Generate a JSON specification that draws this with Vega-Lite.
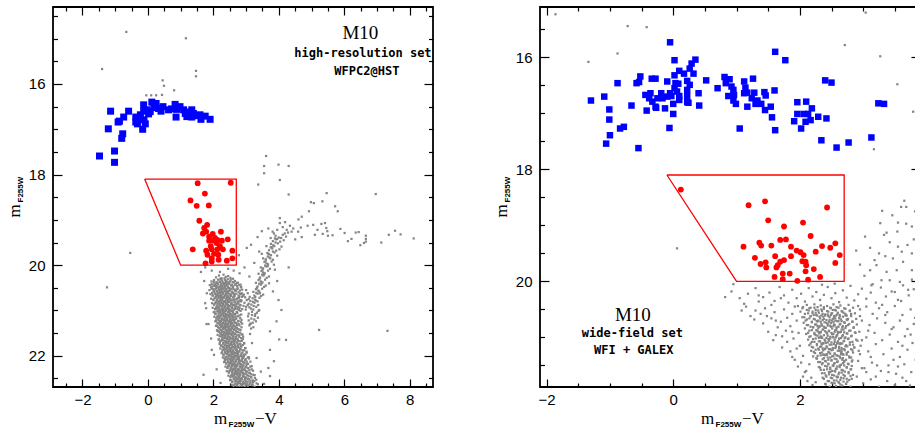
{
"$schema":"https://vega.github.io/schema/vega-lite/v6.json",
"autosize":{"type":"none"},
"padding":{"left":53,"top":7,"right":862,"bottom":421},
"background":"white",
"bounds":"flush",
"spacing":107,
"config":{"view":{"stroke":"#000000","strokeWidth":1.8},"axis":{"grid":false,"labelFont":"Liberation Sans","labelFontSize":15,"labelColor":"#000000","tickColor":"#000000","tickWidth":1.2,"titleColor":"#000000","labelFlush":false,"labelOverlap":false,"labelBound":false}},
"datasets":{
"poly":[{"c":-0.1,"m":18.1,"o":0},{"c":2.7,"m":18.1,"o":1},{"c":2.7,"m":20.0,"o":2},{"c":1.0,"m":20.0,"o":3},{"c":-0.1,"m":18.1,"o":4}],
"tL1":[{"c":6.49,"m":14.875,"t":"M10"}],
"tL2":[{"c":6.57,"m":15.316,"t":"high-resolution set"},{"c":6.69,"m":15.72,"t":"WFPC2@HST"}],
"tR1":[{"c":-0.637,"m":20.605,"t":"M10"}],
"tR2":[{"c":-0.645,"m":20.93,"t":"wide-field set"},{"c":-0.624,"m":21.227,"t":"WFI + GALEX"}],
"bL":[{"c":-1.48,"m":17.59},{"c":-1.02,"m":17.73},{"c":-1.02,"m":17.48},{"c":-1.21,"m":16.99},{"c":-1.14,"m":16.6},{"c":-0.8,"m":17.2},{"c":-0.77,"m":17.1},{"c":-0.91,"m":16.84},{"c":-0.87,"m":16.82},{"c":-0.74,"m":16.73},{"c":-0.59,"m":16.6},{"c":-0.37,"m":16.73},{"c":-0.37,"m":16.84},{"c":-0.32,"m":16.88},{"c":-0.16,"m":17.0},{"c":-0.08,"m":16.88},{"c":-0.12,"m":16.79},{"c":-0.23,"m":16.68},{"c":-0.13,"m":16.46},{"c":-0.03,"m":16.57},{"c":0.07,"m":16.61},{"c":0.12,"m":16.4},{"c":0.25,"m":16.43},{"c":0.32,"m":16.54},{"c":0.46,"m":16.5},{"c":0.63,"m":16.57},{"c":0.83,"m":16.45},{"c":0.88,"m":16.56},{"c":0.86,"m":16.73},{"c":0.98,"m":16.5},{"c":1.09,"m":16.57},{"c":1.14,"m":16.65},{"c":1.19,"m":16.72},{"c":1.34,"m":16.57},{"c":1.34,"m":16.73},{"c":1.39,"m":16.65},{"c":1.59,"m":16.68},{"c":1.62,"m":16.78},{"c":1.75,"m":16.71},{"c":1.9,"m":16.78},{"c":-0.13,"m":16.6},{"c":-0.25,"m":16.76},{"c":0.02,"m":16.66},{"c":0.18,"m":16.52},{"c":0.4,"m":16.6},{"c":1.25,"m":16.62},{"c":1.5,"m":16.7},{"c":0.72,"m":16.55}],
"rL":[{"c":1.52,"m":18.19},{"c":2.53,"m":18.18},{"c":1.74,"m":18.42},{"c":1.3,"m":18.57},{"c":1.49,"m":18.69},{"c":1.86,"m":18.68},{"c":1.57,"m":19.02},{"c":1.81,"m":19.11},{"c":1.72,"m":19.18},{"c":1.78,"m":19.26},{"c":1.98,"m":19.31},{"c":2.23,"m":19.26},{"c":1.87,"m":19.37},{"c":1.87,"m":19.46},{"c":2.0,"m":19.46},{"c":2.12,"m":19.44},{"c":2.26,"m":19.46},{"c":2.44,"m":19.43},{"c":2.1,"m":19.51},{"c":1.37,"m":19.65},{"c":1.78,"m":19.68},{"c":1.95,"m":19.65},{"c":2.12,"m":19.65},{"c":2.29,"m":19.65},{"c":2.58,"m":19.68},{"c":1.82,"m":19.77},{"c":2.02,"m":19.75},{"c":2.15,"m":19.77},{"c":2.58,"m":19.85},{"c":1.95,"m":19.85},{"c":1.76,"m":19.96},{"c":1.95,"m":19.92},{"c":2.16,"m":19.88},{"c":2.41,"m":19.9},{"c":1.92,"m":19.58},{"c":2.05,"m":19.4},{"c":1.68,"m":19.3},{"c":2.2,"m":19.58}],
"bR":[{"c":-0.05,"m":15.73},{"c":0.02,"m":16.05},{"c":0.35,"m":16.04},{"c":0.29,"m":16.11},{"c":0.26,"m":16.2},{"c":0.095,"m":16.24},{"c":0.17,"m":16.29},{"c":0.32,"m":16.29},{"c":0.02,"m":16.32},{"c":-0.52,"m":16.34},{"c":-0.58,"m":16.46},{"c":-0.54,"m":16.44},{"c":-0.88,"m":16.46},{"c":-0.28,"m":16.38},{"c":-0.34,"m":16.38},{"c":-0.095,"m":16.43},{"c":0.035,"m":16.46},{"c":0.08,"m":16.47},{"c":0.22,"m":16.42},{"c":0.26,"m":16.49},{"c":0.52,"m":16.41},{"c":0.02,"m":16.55},{"c":0.06,"m":16.61},{"c":-0.05,"m":16.64},{"c":-0.19,"m":16.64},{"c":-0.36,"m":16.64},{"c":-0.44,"m":16.67},{"c":-0.38,"m":16.73},{"c":-0.25,"m":16.73},{"c":-0.17,"m":16.73},{"c":-0.095,"m":16.7},{"c":-0.03,"m":16.69},{"c":0.095,"m":16.69},{"c":0.22,"m":16.58},{"c":0.22,"m":16.69},{"c":0.4,"m":16.64},{"c":0.22,"m":16.8},{"c":0.095,"m":16.76},{"c":0.0,"m":16.83},{"c":-0.13,"m":16.91},{"c":-0.28,"m":16.88},{"c":-0.33,"m":16.79},{"c":-0.66,"m":16.86},{"c":-1.09,"m":16.7},{"c":-1.3,"m":16.77},{"c":-1.01,"m":16.93},{"c":-1.01,"m":17.11},{"c":-0.84,"m":17.27},{"c":-0.78,"m":17.24},{"c":-1.0,"m":17.39},{"c":-1.06,"m":17.54},{"c":-0.55,"m":17.62},{"c":-0.42,"m":16.95},{"c":-0.27,"m":16.9},{"c":0.0,"m":17.01},{"c":-0.06,"m":17.26},{"c":0.41,"m":16.86},{"c":0.24,"m":16.81},{"c":0.81,"m":16.35},{"c":0.89,"m":16.39},{"c":0.83,"m":16.46},{"c":0.92,"m":16.52},{"c":0.95,"m":16.58},{"c":0.7,"m":16.55},{"c":0.87,"m":16.69},{"c":0.96,"m":16.67},{"c":0.95,"m":16.77},{"c":0.99,"m":16.83},{"c":1.12,"m":16.43},{"c":1.26,"m":16.38},{"c":1.14,"m":16.54},{"c":1.17,"m":16.63},{"c":1.12,"m":16.64},{"c":1.28,"m":16.63},{"c":1.44,"m":16.62},{"c":1.46,"m":16.68},{"c":1.6,"m":16.59},{"c":1.24,"m":16.73},{"c":1.33,"m":16.77},{"c":1.39,"m":16.83},{"c":1.3,"m":16.83},{"c":1.17,"m":16.88},{"c":1.54,"m":16.88},{"c":1.45,"m":16.94},{"c":1.56,"m":17.07},{"c":1.61,"m":17.3},{"c":1.05,"m":17.27},{"c":1.77,"m":16.05},{"c":1.61,"m":15.9},{"c":1.96,"m":16.8},{"c":2.1,"m":16.79},{"c":2.19,"m":16.91},{"c":1.96,"m":17.01},{"c":2.06,"m":17.01},{"c":2.13,"m":17.01},{"c":1.91,"m":17.14},{"c":2.09,"m":17.15},{"c":2.17,"m":17.12},{"c":2.29,"m":17.06},{"c":2.42,"m":17.09},{"c":2.02,"m":17.27},{"c":2.4,"m":16.41},{"c":2.5,"m":16.45},{"c":2.34,"m":17.48},{"c":2.58,"m":17.61},{"c":2.77,"m":17.52},{"c":3.13,"m":17.43},{"c":3.24,"m":16.82},{"c":3.33,"m":16.83}],
"rR":[{"c":0.12,"m":18.36},{"c":1.19,"m":18.64},{"c":1.45,"m":18.57},{"c":2.43,"m":18.68},{"c":1.5,"m":18.91},{"c":2.05,"m":18.95},{"c":1.75,"m":19.02},{"c":2.17,"m":19.19},{"c":1.69,"m":19.26},{"c":1.78,"m":19.25},{"c":1.36,"m":19.31},{"c":1.39,"m":19.36},{"c":1.55,"m":19.36},{"c":1.11,"m":19.38},{"c":1.86,"m":19.38},{"c":1.95,"m":19.45},{"c":2.01,"m":19.48},{"c":2.06,"m":19.53},{"c":2.25,"m":19.47},{"c":2.35,"m":19.37},{"c":2.48,"m":19.4},{"c":2.56,"m":19.32},{"c":2.63,"m":19.53},{"c":2.56,"m":19.67},{"c":1.29,"m":19.58},{"c":1.61,"m":19.55},{"c":1.86,"m":19.55},{"c":1.38,"m":19.69},{"c":1.47,"m":19.75},{"c":1.46,"m":19.66},{"c":1.69,"m":19.65},{"c":1.75,"m":19.62},{"c":1.63,"m":19.75},{"c":1.65,"m":19.71},{"c":2.04,"m":19.64},{"c":2.09,"m":19.65},{"c":2.1,"m":19.71},{"c":2.09,"m":19.82},{"c":2.22,"m":19.78},{"c":1.73,"m":19.86},{"c":1.84,"m":19.86},{"c":1.6,"m":19.92},{"c":1.73,"m":19.96},{"c":1.96,"m":19.99},{"c":2.13,"m":19.97},{"c":2.32,"m":19.92}],
"gL":[{"c":-0.66,"m":14.85},{"c":1.16,"m":14.99},{"c":-1.4,"m":15.67},{"c":1.47,"m":15.71},{"c":1.47,"m":15.83},{"c":0.45,"m":15.92},{"c":0.49,"m":16.04},{"c":0.8,"m":16.14},{"c":-0.05,"m":16.25},{"c":0.1,"m":16.25},{"c":0.25,"m":16.25},{"c":0.43,"m":16.24},{"c":-0.54,"m":19.73},{"c":-1.25,"m":20.49},{"c":5.23,"m":21.43},{"c":7.32,"m":21.45},{"c":6.96,"m":18.43},
{"c":3.61,"m":17.59},{"c":3.55,"m":17.81},{"c":3.55,"m":17.97},{"c":3.99,"m":17.78},{"c":4.3,"m":17.81},{"c":4.03,"m":18.12},{"c":3.37,"m":18.22},{"c":4.3,"m":18.44},{"c":5.46,"m":18.41},{"c":4.98,"m":18.61},{"c":5.07,"m":18.63},{"c":5.33,"m":18.59},{"c":5.72,"m":18.7},{"c":5.8,"m":18.81},{"c":4.92,"m":18.81},{"c":4.7,"m":18.93},{"c":4.6,"m":18.99},{"c":4.03,"m":18.96},{"c":4.03,"m":19.07},{"c":4.19,"m":19.05},{"c":4.34,"m":19.13},{"c":4.44,"m":19.19},{"c":4.24,"m":19.22},{"c":3.95,"m":19.22},{"c":3.81,"m":19.26},{"c":3.68,"m":19.19},{"c":4.12,"m":19.16},{"c":4.39,"m":19.26},{"c":4.59,"m":19.26},{"c":4.67,"m":19.17},{"c":4.88,"m":19.13},{"c":5.05,"m":19.11},{"c":5.18,"m":19.22},{"c":5.3,"m":19.09},{"c":5.41,"m":19.07},{"c":5.45,"m":19.18},{"c":5.48,"m":19.25},{"c":5.34,"m":19.31},{"c":5.1,"m":19.33},{"c":5.5,"m":19.35},{"c":5.64,"m":19.34},{"c":5.88,"m":19.2},{"c":6.01,"m":19.29},{"c":6.11,"m":19.47},{"c":6.22,"m":19.42},{"c":6.35,"m":19.28},{"c":6.44,"m":19.27},{"c":6.66,"m":19.35},{"c":6.66,"m":19.42},{"c":6.6,"m":19.51},{"c":6.49,"m":19.56},{"c":6.66,"m":19.48},{"c":7.13,"m":19.5},{"c":7.36,"m":19.33},{"c":7.55,"m":19.24},{"c":7.72,"m":19.32},{"c":8.12,"m":19.41},{"c":4.5,"m":19.43},{"c":4.7,"m":19.38},
{"c":3.1,"m":21.33},{"c":3.22,"m":21.37},{"c":3.15,"m":21.4},{"c":3.08,"m":21.22},{"c":3.2,"m":21.27},{"c":3.3,"m":21.24},{"c":3.14,"m":21.29},{"c":3.06,"m":21.13},{"c":3.16,"m":21.18},{"c":3.27,"m":21.12},{"c":3.36,"m":21.16},{"c":3.08,"m":21.07},{"c":3.18,"m":21.03},{"c":3.28,"m":21.08},{"c":3.38,"m":21.01},
{"c":3.1,"m":20.93},{"c":3.22,"m":20.98},{"c":3.31,"m":20.92},{"c":3.15,"m":20.96},{"c":3.4,"m":20.99},{"c":3.16,"m":20.87},{"c":3.26,"m":20.83},{"c":3.37,"m":20.88},{"c":3.21,"m":20.81},{"c":3.08,"m":20.85},{"c":3.2,"m":20.73},{"c":3.3,"m":20.78},{"c":3.41,"m":20.72},{"c":3.27,"m":20.76},{"c":3.13,"m":20.79},{"c":3.25,"m":20.67},{"c":3.35,"m":20.63},{"c":3.46,"m":20.68},{"c":3.31,"m":20.61},{"c":3.52,"m":20.65},{"c":3.3,"m":20.53},{"c":3.4,"m":20.58},{"c":3.49,"m":20.52},{"c":3.37,"m":20.56},{"c":3.22,"m":20.59},{"c":3.35,"m":20.47},{"c":3.45,"m":20.43},{"c":3.55,"m":20.48},{"c":3.4,"m":20.41},{"c":3.6,"m":20.45},{"c":3.38,"m":20.33},{"c":3.5,"m":20.38},{"c":3.58,"m":20.32},{"c":3.45,"m":20.36},{"c":3.3,"m":20.39},{"c":3.43,"m":20.27},{"c":3.53,"m":20.23},{"c":3.63,"m":20.28},{"c":3.49,"m":20.21},{"c":3.7,"m":20.25},{"c":3.47,"m":20.13},{"c":3.57,"m":20.18},{"c":3.67,"m":20.12},{"c":3.52,"m":20.16},{"c":3.38,"m":20.19},{"c":3.52,"m":20.07},{"c":3.62,"m":20.03},{"c":3.73,"m":20.08},{"c":3.58,"m":20.01},{"c":3.45,"m":20.05},{"c":3.56,"m":19.93},{"c":3.67,"m":19.98},{"c":3.78,"m":19.92},{"c":3.62,"m":19.96},{"c":3.85,"m":19.99},{"c":3.6,"m":19.87},{"c":3.71,"m":19.83},{"c":3.82,"m":19.88},{"c":3.66,"m":19.81},{"c":3.52,"m":19.85},{"c":3.65,"m":19.73},{"c":3.76,"m":19.78},{"c":3.87,"m":19.72},{"c":3.7,"m":19.76},{"c":3.95,"m":19.79},{"c":3.7,"m":19.67},{"c":3.8,"m":19.63},{"c":3.92,"m":19.68},{"c":3.75,"m":19.61},{"c":4.02,"m":19.65},{"c":3.76,"m":19.53},{"c":3.86,"m":19.58},{"c":3.97,"m":19.52},{"c":3.83,"m":19.56},{"c":4.08,"m":19.59},{"c":3.82,"m":19.47},{"c":3.92,"m":19.43},{"c":4.04,"m":19.48},{"c":3.88,"m":19.41},{"c":4.15,"m":19.45},{"c":3.9,"m":19.35},{"c":4.0,"m":19.39},{"c":4.12,"m":19.33},{"c":4.22,"m":19.37},
{"c":3.12,"m":21.3},{"c":3.25,"m":21.2},{"c":3.18,"m":21.1},{"c":3.33,"m":21.05},{"c":3.23,"m":20.9},{"c":3.35,"m":20.8},{"c":3.28,"m":20.7},{"c":3.42,"m":20.62},{"c":3.33,"m":20.5},{"c":3.47,"m":20.4},{"c":3.41,"m":20.3},{"c":3.55,"m":20.2},{"c":3.5,"m":20.1},{"c":3.66,"m":20.02},{"c":3.6,"m":19.9},{"c":3.74,"m":19.85},{"c":3.68,"m":19.75},{"c":3.82,"m":19.7},{"c":3.78,"m":19.6},{"c":3.9,"m":19.5},{"c":3.95,"m":19.42},{"c":4.07,"m":19.4},{"c":4.18,"m":19.3},{"c":3.85,"m":19.3},{"c":4.28,"m":19.28},{"c":3.75,"m":19.4},{"c":3.62,"m":19.58},{"c":3.48,"m":19.75},{"c":3.88,"m":20.1},{"c":3.7,"m":20.4},
{"c":2.78,"m":20.72},{"c":2.86,"m":20.78},{"c":2.95,"m":20.83},{"c":2.83,"m":20.88},{"c":2.91,"m":20.68},{"c":3.02,"m":20.77},{"c":2.8,"m":20.95},{"c":2.88,"m":20.97},{"c":3.0,"m":20.92},{"c":2.82,"m":20.63},{"c":2.97,"m":20.71},{"c":3.08,"m":20.75},{"c":2.76,"m":20.85},{"c":2.93,"m":20.65},{"c":3.05,"m":20.88},{"c":2.87,"m":20.7},{"c":2.99,"m":20.98},{"c":3.11,"m":20.7},{"c":2.92,"m":20.9},{"c":2.84,"m":20.8},
{"c":2.08,"m":20.27},{"c":2.17,"m":20.23},{"c":2.25,"m":20.29},{"c":2.31,"m":20.21},{"c":2.38,"m":20.26},{"c":2.45,"m":20.24},{"c":2.52,"m":20.28},{"c":2.6,"m":20.3},{"c":2.21,"m":20.3},{"c":2.34,"m":20.29},
{"c":1.94,"m":20.36},{"c":2.02,"m":20.33},{"c":2.09,"m":20.38},{"c":2.14,"m":20.32},{"c":2.2,"m":20.37},{"c":2.27,"m":20.34},{"c":2.32,"m":20.39},{"c":2.36,"m":20.33},{"c":2.41,"m":20.36},{"c":2.47,"m":20.38},{"c":2.53,"m":20.32},{"c":2.59,"m":20.37},{"c":2.66,"m":20.35},{"c":2.73,"m":20.39},{"c":2.24,"m":20.31},{"c":2.44,"m":20.31},{"c":2.12,"m":20.39},
{"c":1.89,"m":20.44},{"c":1.97,"m":20.47},{"c":2.03,"m":20.42},{"c":2.08,"m":20.46},{"c":2.13,"m":20.41},{"c":2.18,"m":20.48},{"c":2.22,"m":20.43},{"c":2.27,"m":20.46},{"c":2.31,"m":20.42},{"c":2.35,"m":20.49},{"c":2.4,"m":20.44},{"c":2.44,"m":20.47},{"c":2.49,"m":20.41},{"c":2.54,"m":20.45},{"c":2.6,"m":20.48},{"c":2.66,"m":20.43},{"c":2.72,"m":20.46},{"c":2.79,"m":20.44},{"c":2.84,"m":20.49},{"c":2.25,"m":20.5},{"c":2.38,"m":20.4},
{"c":1.88,"m":20.55},{"c":1.95,"m":20.52},{"c":2.01,"m":20.57},{"c":2.06,"m":20.53},{"c":2.1,"m":20.58},{"c":2.15,"m":20.51},{"c":2.19,"m":20.56},{"c":2.23,"m":20.53},{"c":2.27,"m":20.59},{"c":2.3,"m":20.52},{"c":2.34,"m":20.56},{"c":2.38,"m":20.54},{"c":2.42,"m":20.58},{"c":2.46,"m":20.51},{"c":2.51,"m":20.55},{"c":2.56,"m":20.59},{"c":2.61,"m":20.53},{"c":2.67,"m":20.57},{"c":2.74,"m":20.52},{"c":2.81,"m":20.56},{"c":2.88,"m":20.54},{"c":2.21,"m":20.6},{"c":2.36,"m":20.5},
{"c":1.91,"m":20.64},{"c":1.98,"m":20.67},{"c":2.04,"m":20.62},{"c":2.09,"m":20.66},{"c":2.13,"m":20.61},{"c":2.17,"m":20.68},{"c":2.21,"m":20.63},{"c":2.25,"m":20.66},{"c":2.29,"m":20.62},{"c":2.33,"m":20.69},{"c":2.37,"m":20.64},{"c":2.41,"m":20.67},{"c":2.45,"m":20.61},{"c":2.49,"m":20.65},{"c":2.54,"m":20.68},{"c":2.59,"m":20.62},{"c":2.64,"m":20.66},{"c":2.7,"m":20.63},{"c":2.77,"m":20.67},{"c":2.85,"m":20.64},{"c":2.23,"m":20.7},{"c":2.39,"m":20.6},
{"c":1.93,"m":20.74},{"c":2.0,"m":20.77},{"c":2.06,"m":20.72},{"c":2.11,"m":20.76},{"c":2.15,"m":20.71},{"c":2.19,"m":20.78},{"c":2.23,"m":20.73},{"c":2.27,"m":20.76},{"c":2.31,"m":20.72},{"c":2.35,"m":20.79},{"c":2.39,"m":20.74},{"c":2.43,"m":20.77},{"c":2.47,"m":20.71},{"c":2.52,"m":20.75},{"c":2.57,"m":20.78},{"c":2.62,"m":20.72},{"c":2.68,"m":20.76},{"c":2.75,"m":20.73},{"c":2.83,"m":20.77},{"c":2.25,"m":20.8},{"c":2.41,"m":20.7},
{"c":1.96,"m":20.84},{"c":2.03,"m":20.87},{"c":2.08,"m":20.82},{"c":2.13,"m":20.86},{"c":2.17,"m":20.81},{"c":2.21,"m":20.88},{"c":2.25,"m":20.83},{"c":2.29,"m":20.86},{"c":2.33,"m":20.82},{"c":2.37,"m":20.89},{"c":2.41,"m":20.84},{"c":2.45,"m":20.87},{"c":2.49,"m":20.81},{"c":2.54,"m":20.85},{"c":2.59,"m":20.88},{"c":2.64,"m":20.82},{"c":2.7,"m":20.86},{"c":2.76,"m":20.83},{"c":2.27,"m":20.9},{"c":2.43,"m":20.8},
{"c":1.98,"m":20.94},{"c":2.05,"m":20.97},{"c":2.1,"m":20.92},{"c":2.15,"m":20.96},{"c":2.19,"m":20.91},{"c":2.23,"m":20.98},{"c":2.27,"m":20.93},{"c":2.31,"m":20.96},{"c":2.35,"m":20.92},{"c":2.39,"m":20.99},{"c":2.43,"m":20.94},{"c":2.47,"m":20.97},{"c":2.52,"m":20.91},{"c":2.57,"m":20.95},{"c":2.62,"m":20.98},{"c":2.67,"m":20.92},{"c":2.73,"m":20.96},{"c":2.29,"m":21.0},{"c":2.45,"m":20.9},
{"c":2.01,"m":21.04},{"c":2.07,"m":21.07},{"c":2.12,"m":21.02},{"c":2.17,"m":21.06},{"c":2.21,"m":21.01},{"c":2.25,"m":21.08},{"c":2.29,"m":21.03},{"c":2.33,"m":21.06},{"c":2.37,"m":21.02},{"c":2.41,"m":21.09},{"c":2.45,"m":21.04},{"c":2.5,"m":21.07},{"c":2.55,"m":21.01},{"c":2.6,"m":21.05},{"c":2.66,"m":21.08},{"c":2.72,"m":21.03},{"c":2.31,"m":21.1},{"c":2.47,"m":21.0},
{"c":2.03,"m":21.14},{"c":2.09,"m":21.17},{"c":2.14,"m":21.12},{"c":2.19,"m":21.16},{"c":2.23,"m":21.11},{"c":2.27,"m":21.18},{"c":2.31,"m":21.13},{"c":2.35,"m":21.16},{"c":2.39,"m":21.12},{"c":2.43,"m":21.19},{"c":2.47,"m":21.14},{"c":2.52,"m":21.17},{"c":2.57,"m":21.11},{"c":2.62,"m":21.15},{"c":2.68,"m":21.18},{"c":2.75,"m":21.13},{"c":2.33,"m":21.2},{"c":2.49,"m":21.1},
{"c":2.06,"m":21.24},{"c":2.12,"m":21.27},{"c":2.17,"m":21.22},{"c":2.21,"m":21.26},{"c":2.25,"m":21.21},{"c":2.29,"m":21.28},{"c":2.33,"m":21.23},{"c":2.37,"m":21.26},{"c":2.41,"m":21.22},{"c":2.45,"m":21.29},{"c":2.49,"m":21.24},{"c":2.54,"m":21.27},{"c":2.59,"m":21.21},{"c":2.64,"m":21.25},{"c":2.7,"m":21.28},{"c":2.77,"m":21.23},{"c":2.35,"m":21.3},{"c":2.51,"m":21.2},
{"c":2.08,"m":21.34},{"c":2.14,"m":21.37},{"c":2.19,"m":21.32},{"c":2.23,"m":21.36},{"c":2.27,"m":21.31},{"c":2.31,"m":21.38},{"c":2.35,"m":21.33},{"c":2.39,"m":21.36},{"c":2.43,"m":21.32},{"c":2.47,"m":21.39},{"c":2.51,"m":21.34},{"c":2.56,"m":21.37},{"c":2.61,"m":21.31},{"c":2.66,"m":21.35},{"c":2.72,"m":21.38},{"c":2.8,"m":21.33},{"c":2.37,"m":21.4},{"c":2.53,"m":21.3},
{"c":2.11,"m":21.44},{"c":2.17,"m":21.47},{"c":2.22,"m":21.42},{"c":2.26,"m":21.46},{"c":2.3,"m":21.41},{"c":2.34,"m":21.48},{"c":2.38,"m":21.43},{"c":2.42,"m":21.46},{"c":2.46,"m":21.42},{"c":2.5,"m":21.49},{"c":2.54,"m":21.44},{"c":2.59,"m":21.47},{"c":2.64,"m":21.41},{"c":2.69,"m":21.45},{"c":2.75,"m":21.48},{"c":2.83,"m":21.43},{"c":2.4,"m":21.5},{"c":2.56,"m":21.4},
{"c":2.13,"m":21.54},{"c":2.19,"m":21.57},{"c":2.24,"m":21.52},{"c":2.28,"m":21.56},{"c":2.32,"m":21.51},{"c":2.36,"m":21.58},{"c":2.4,"m":21.53},{"c":2.44,"m":21.56},{"c":2.48,"m":21.52},{"c":2.52,"m":21.59},{"c":2.56,"m":21.54},{"c":2.61,"m":21.57},{"c":2.66,"m":21.51},{"c":2.71,"m":21.55},{"c":2.78,"m":21.58},{"c":2.86,"m":21.53},{"c":2.42,"m":21.6},{"c":2.58,"m":21.5},
{"c":2.16,"m":21.64},{"c":2.22,"m":21.67},{"c":2.27,"m":21.62},{"c":2.31,"m":21.66},{"c":2.35,"m":21.61},{"c":2.39,"m":21.68},{"c":2.43,"m":21.63},{"c":2.47,"m":21.66},{"c":2.51,"m":21.62},{"c":2.55,"m":21.69},{"c":2.59,"m":21.64},{"c":2.64,"m":21.67},{"c":2.69,"m":21.61},{"c":2.75,"m":21.65},{"c":2.82,"m":21.68},{"c":2.9,"m":21.63},{"c":2.45,"m":21.7},{"c":2.61,"m":21.6},
{"c":2.19,"m":21.74},{"c":2.25,"m":21.77},{"c":2.3,"m":21.72},{"c":2.34,"m":21.76},{"c":2.38,"m":21.71},{"c":2.42,"m":21.78},{"c":2.46,"m":21.73},{"c":2.5,"m":21.76},{"c":2.54,"m":21.72},{"c":2.58,"m":21.79},{"c":2.62,"m":21.74},{"c":2.67,"m":21.77},{"c":2.72,"m":21.71},{"c":2.78,"m":21.75},{"c":2.85,"m":21.78},{"c":2.94,"m":21.73},{"c":2.48,"m":21.8},{"c":2.64,"m":21.7},
{"c":2.21,"m":21.84},{"c":2.28,"m":21.87},{"c":2.33,"m":21.82},{"c":2.37,"m":21.86},{"c":2.41,"m":21.81},{"c":2.45,"m":21.88},{"c":2.49,"m":21.83},{"c":2.53,"m":21.86},{"c":2.57,"m":21.82},{"c":2.61,"m":21.89},{"c":2.65,"m":21.84},{"c":2.7,"m":21.87},{"c":2.75,"m":21.81},{"c":2.82,"m":21.85},{"c":2.89,"m":21.88},{"c":2.98,"m":21.83},{"c":2.51,"m":21.9},{"c":2.67,"m":21.8},
{"c":2.25,"m":21.94},{"c":2.31,"m":21.97},{"c":2.36,"m":21.92},{"c":2.41,"m":21.96},{"c":2.45,"m":21.91},{"c":2.49,"m":21.98},{"c":2.53,"m":21.93},{"c":2.57,"m":21.96},{"c":2.61,"m":21.92},{"c":2.65,"m":21.99},{"c":2.69,"m":21.94},{"c":2.74,"m":21.97},{"c":2.79,"m":21.91},{"c":2.86,"m":21.95},{"c":2.93,"m":21.98},{"c":3.02,"m":21.93},{"c":2.55,"m":22.0},{"c":2.71,"m":21.9},
{"c":2.29,"m":22.04},{"c":2.35,"m":22.07},{"c":2.4,"m":22.02},{"c":2.45,"m":22.06},{"c":2.49,"m":22.01},{"c":2.53,"m":22.08},{"c":2.57,"m":22.03},{"c":2.61,"m":22.06},{"c":2.65,"m":22.02},{"c":2.69,"m":22.09},{"c":2.73,"m":22.04},{"c":2.78,"m":22.07},{"c":2.84,"m":22.01},{"c":2.91,"m":22.05},{"c":2.99,"m":22.08},{"c":3.08,"m":22.03},{"c":2.59,"m":22.1},{"c":2.75,"m":22.0},
{"c":2.33,"m":22.14},{"c":2.39,"m":22.17},{"c":2.44,"m":22.12},{"c":2.49,"m":22.16},{"c":2.53,"m":22.11},{"c":2.57,"m":22.18},{"c":2.61,"m":22.13},{"c":2.65,"m":22.16},{"c":2.69,"m":22.12},{"c":2.73,"m":22.19},{"c":2.77,"m":22.14},{"c":2.82,"m":22.17},{"c":2.88,"m":22.11},{"c":2.95,"m":22.15},{"c":3.03,"m":22.18},{"c":3.13,"m":22.13},{"c":2.63,"m":22.2},{"c":2.79,"m":22.1},
{"c":2.37,"m":22.24},{"c":2.43,"m":22.27},{"c":2.48,"m":22.22},{"c":2.53,"m":22.26},{"c":2.57,"m":22.21},{"c":2.61,"m":22.28},{"c":2.65,"m":22.23},{"c":2.69,"m":22.26},{"c":2.73,"m":22.22},{"c":2.77,"m":22.29},{"c":2.81,"m":22.24},{"c":2.86,"m":22.27},{"c":2.92,"m":22.21},{"c":2.99,"m":22.25},{"c":3.07,"m":22.28},{"c":3.17,"m":22.23},{"c":2.67,"m":22.3},{"c":2.83,"m":22.2},
{"c":2.41,"m":22.34},{"c":2.47,"m":22.37},{"c":2.52,"m":22.32},{"c":2.57,"m":22.36},{"c":2.61,"m":22.31},{"c":2.65,"m":22.38},{"c":2.69,"m":22.33},{"c":2.73,"m":22.36},{"c":2.77,"m":22.32},{"c":2.81,"m":22.39},{"c":2.85,"m":22.34},{"c":2.9,"m":22.37},{"c":2.96,"m":22.31},{"c":3.03,"m":22.35},{"c":3.11,"m":22.38},{"c":3.21,"m":22.33},{"c":2.71,"m":22.4},{"c":2.87,"m":22.3},
{"c":2.46,"m":22.44},{"c":2.52,"m":22.47},{"c":2.57,"m":22.42},{"c":2.62,"m":22.46},{"c":2.66,"m":22.41},{"c":2.7,"m":22.48},{"c":2.74,"m":22.43},{"c":2.78,"m":22.46},{"c":2.82,"m":22.42},{"c":2.86,"m":22.49},{"c":2.9,"m":22.44},{"c":2.95,"m":22.47},{"c":3.01,"m":22.41},{"c":3.08,"m":22.45},{"c":3.16,"m":22.48},{"c":3.26,"m":22.43},{"c":2.76,"m":22.5},{"c":2.92,"m":22.4},
{"c":2.51,"m":22.54},{"c":2.57,"m":22.57},{"c":2.62,"m":22.52},{"c":2.67,"m":22.56},{"c":2.71,"m":22.51},{"c":2.75,"m":22.58},{"c":2.79,"m":22.53},{"c":2.83,"m":22.56},{"c":2.87,"m":22.52},{"c":2.91,"m":22.59},{"c":2.95,"m":22.54},{"c":3.0,"m":22.57},{"c":3.06,"m":22.51},{"c":3.13,"m":22.55},{"c":3.21,"m":22.58},{"c":3.31,"m":22.53},{"c":2.81,"m":22.6},{"c":2.97,"m":22.5},
{"c":2.56,"m":22.64},{"c":2.62,"m":22.67},{"c":2.67,"m":22.62},{"c":2.72,"m":22.66},{"c":2.76,"m":22.61},{"c":2.8,"m":22.68},{"c":2.84,"m":22.63},{"c":2.88,"m":22.66},{"c":2.92,"m":22.62},{"c":2.96,"m":22.68},{"c":3.0,"m":22.64},{"c":3.05,"m":22.67},{"c":3.11,"m":22.61},{"c":3.18,"m":22.65},{"c":3.26,"m":22.68},{"c":3.36,"m":22.63},
{"c":1.95,"m":20.42},{"c":2.01,"m":20.37},{"c":2.05,"m":20.44},{"c":2.1,"m":20.39},{"c":2.13,"m":20.43},{"c":2.19,"m":20.36},{"c":2.24,"m":20.41},{"c":2.28,"m":20.38},{"c":2.33,"m":20.44},{"c":2.39,"m":20.37},{"c":2.42,"m":20.42},{"c":2.47,"m":20.4},{"c":2.51,"m":20.36},{"c":2.57,"m":20.43},{"c":2.62,"m":20.38},{"c":2.69,"m":20.41},{"c":2.75,"m":20.39},{"c":2.83,"m":20.43},
{"c":1.93,"m":20.49},{"c":1.99,"m":20.53},{"c":2.03,"m":20.46},{"c":2.08,"m":20.51},{"c":2.11,"m":20.48},{"c":2.17,"m":20.54},{"c":2.22,"m":20.47},{"c":2.26,"m":20.52},{"c":2.31,"m":20.5},{"c":2.37,"m":20.46},{"c":2.4,"m":20.53},{"c":2.45,"m":20.48},{"c":2.49,"m":20.51},{"c":2.55,"m":20.52},{"c":2.6,"m":20.47},{"c":2.67,"m":20.54},{"c":2.74,"m":20.51},{"c":2.85,"m":20.48},
{"c":1.96,"m":20.61},{"c":2.02,"m":20.58},{"c":2.06,"m":20.64},{"c":2.11,"m":20.57},{"c":2.14,"m":20.62},{"c":2.2,"m":20.6},{"c":2.25,"m":20.56},{"c":2.29,"m":20.63},{"c":2.34,"m":20.58},{"c":2.4,"m":20.61},{"c":2.43,"m":20.62},{"c":2.48,"m":20.57},{"c":2.52,"m":20.64},{"c":2.58,"m":20.59},{"c":2.63,"m":20.63},{"c":2.7,"m":20.56},{"c":2.77,"m":20.6},{"c":2.87,"m":20.62},
{"c":1.98,"m":20.67},{"c":2.04,"m":20.72},{"c":2.08,"m":20.7},{"c":2.13,"m":20.66},{"c":2.16,"m":20.73},{"c":2.22,"m":20.68},{"c":2.27,"m":20.71},{"c":2.31,"m":20.72},{"c":2.36,"m":20.67},{"c":2.42,"m":20.74},{"c":2.45,"m":20.69},{"c":2.5,"m":20.73},{"c":2.54,"m":20.66},{"c":2.6,"m":20.71},{"c":2.65,"m":20.68},{"c":2.72,"m":20.74},{"c":2.79,"m":20.69},
{"c":2.0,"m":20.76},{"c":2.06,"m":20.83},{"c":2.1,"m":20.78},{"c":2.15,"m":20.81},{"c":2.18,"m":20.82},{"c":2.24,"m":20.77},{"c":2.29,"m":20.84},{"c":2.33,"m":20.79},{"c":2.38,"m":20.83},{"c":2.44,"m":20.76},{"c":2.47,"m":20.81},{"c":2.52,"m":20.78},{"c":2.56,"m":20.84},{"c":2.62,"m":20.77},{"c":2.67,"m":20.82},{"c":2.74,"m":20.8},{"c":2.8,"m":20.79},
{"c":2.02,"m":20.87},{"c":2.08,"m":20.94},{"c":2.12,"m":20.89},{"c":2.17,"m":20.93},{"c":2.2,"m":20.86},{"c":2.26,"m":20.91},{"c":2.31,"m":20.88},{"c":2.35,"m":20.94},{"c":2.4,"m":20.87},{"c":2.46,"m":20.92},{"c":2.49,"m":20.9},{"c":2.54,"m":20.86},{"c":2.58,"m":20.93},{"c":2.64,"m":20.88},{"c":2.69,"m":20.91},{"c":2.76,"m":20.92},{"c":2.81,"m":20.89},
{"c":2.04,"m":21.03},{"c":2.1,"m":20.96},{"c":2.14,"m":21.01},{"c":2.19,"m":20.98},{"c":2.22,"m":21.04},{"c":2.28,"m":20.97},{"c":2.33,"m":21.02},{"c":2.37,"m":21.0},{"c":2.42,"m":20.96},{"c":2.48,"m":21.03},{"c":2.51,"m":20.98},{"c":2.56,"m":21.01},{"c":2.6,"m":21.02},{"c":2.66,"m":20.97},{"c":2.71,"m":21.04},{"c":2.78,"m":20.99},{"c":2.83,"m":21.01},
{"c":2.06,"m":21.08},{"c":2.12,"m":21.14},{"c":2.16,"m":21.07},{"c":2.21,"m":21.12},{"c":2.24,"m":21.1},{"c":2.3,"m":21.06},{"c":2.35,"m":21.13},{"c":2.39,"m":21.08},{"c":2.44,"m":21.11},{"c":2.5,"m":21.12},{"c":2.53,"m":21.07},{"c":2.58,"m":21.14},{"c":2.62,"m":21.09},{"c":2.68,"m":21.13},{"c":2.73,"m":21.06},{"c":2.8,"m":21.11},{"c":2.85,"m":21.09},
{"c":2.08,"m":21.22},{"c":2.14,"m":21.2},{"c":2.18,"m":21.16},{"c":2.23,"m":21.23},{"c":2.26,"m":21.18},{"c":2.32,"m":21.21},{"c":2.37,"m":21.22},{"c":2.41,"m":21.17},{"c":2.46,"m":21.24},{"c":2.52,"m":21.19},{"c":2.55,"m":21.23},{"c":2.6,"m":21.16},{"c":2.64,"m":21.21},{"c":2.7,"m":21.18},{"c":2.75,"m":21.24},{"c":2.82,"m":21.17},{"c":2.86,"m":21.21},
{"c":2.1,"m":21.33},{"c":2.16,"m":21.28},{"c":2.2,"m":21.31},{"c":2.25,"m":21.32},{"c":2.28,"m":21.27},{"c":2.34,"m":21.34},{"c":2.39,"m":21.29},{"c":2.43,"m":21.33},{"c":2.48,"m":21.26},{"c":2.54,"m":21.31},{"c":2.57,"m":21.28},{"c":2.62,"m":21.34},{"c":2.66,"m":21.27},{"c":2.72,"m":21.32},{"c":2.77,"m":21.3},{"c":2.84,"m":21.26},{"c":2.88,"m":21.29},
{"c":2.12,"m":21.44},{"c":2.18,"m":21.39},{"c":2.22,"m":21.43},{"c":2.27,"m":21.36},{"c":2.3,"m":21.41},{"c":2.36,"m":21.38},{"c":2.41,"m":21.44},{"c":2.45,"m":21.37},{"c":2.5,"m":21.42},{"c":2.56,"m":21.4},{"c":2.59,"m":21.36},{"c":2.64,"m":21.43},{"c":2.68,"m":21.38},{"c":2.74,"m":21.41},{"c":2.79,"m":21.42},{"c":2.86,"m":21.37},
{"c":2.15,"m":21.46},{"c":2.21,"m":21.51},{"c":2.25,"m":21.48},{"c":2.3,"m":21.54},{"c":2.33,"m":21.47},{"c":2.39,"m":21.52},{"c":2.44,"m":21.5},{"c":2.48,"m":21.46},{"c":2.53,"m":21.53},{"c":2.59,"m":21.48},{"c":2.62,"m":21.51},{"c":2.67,"m":21.52},{"c":2.71,"m":21.47},{"c":2.77,"m":21.54},{"c":2.82,"m":21.49},{"c":2.89,"m":21.53},
{"c":2.17,"m":21.64},{"c":2.23,"m":21.57},{"c":2.27,"m":21.62},{"c":2.32,"m":21.6},{"c":2.35,"m":21.56},{"c":2.41,"m":21.63},{"c":2.46,"m":21.58},{"c":2.5,"m":21.61},{"c":2.55,"m":21.62},{"c":2.61,"m":21.57},{"c":2.64,"m":21.64},{"c":2.69,"m":21.59},{"c":2.73,"m":21.63},{"c":2.79,"m":21.56},{"c":2.84,"m":21.61},{"c":2.91,"m":21.58},
{"c":2.2,"m":21.7},{"c":2.26,"m":21.66},{"c":2.3,"m":21.73},{"c":2.35,"m":21.68},{"c":2.38,"m":21.71},{"c":2.44,"m":21.72},{"c":2.49,"m":21.67},{"c":2.53,"m":21.74},{"c":2.58,"m":21.69},{"c":2.64,"m":21.73},{"c":2.67,"m":21.66},{"c":2.72,"m":21.71},{"c":2.76,"m":21.68},{"c":2.82,"m":21.74},{"c":2.87,"m":21.67},{"c":2.94,"m":21.72},
{"c":2.23,"m":21.78},{"c":2.29,"m":21.81},{"c":2.33,"m":21.82},{"c":2.38,"m":21.77},{"c":2.41,"m":21.84},{"c":2.47,"m":21.79},{"c":2.52,"m":21.83},{"c":2.56,"m":21.76},{"c":2.61,"m":21.81},{"c":2.67,"m":21.78},{"c":2.7,"m":21.84},{"c":2.75,"m":21.77},{"c":2.79,"m":21.82},{"c":2.85,"m":21.8},{"c":2.9,"m":21.76},{"c":2.97,"m":21.83},
{"c":2.27,"m":21.92},{"c":2.33,"m":21.87},{"c":2.37,"m":21.94},{"c":2.42,"m":21.89},{"c":2.45,"m":21.93},{"c":2.51,"m":21.86},{"c":2.56,"m":21.91},{"c":2.6,"m":21.88},{"c":2.65,"m":21.94},{"c":2.71,"m":21.87},{"c":2.74,"m":21.92},{"c":2.79,"m":21.9},{"c":2.83,"m":21.86},{"c":2.89,"m":21.93},{"c":2.94,"m":21.88},{"c":3.01,"m":21.91},
{"c":2.31,"m":21.99},{"c":2.37,"m":22.03},{"c":2.41,"m":21.96},{"c":2.46,"m":22.01},{"c":2.49,"m":21.98},{"c":2.55,"m":22.04},{"c":2.6,"m":21.97},{"c":2.64,"m":22.02},{"c":2.69,"m":22.0},{"c":2.75,"m":21.96},{"c":2.78,"m":22.03},{"c":2.83,"m":21.98},{"c":2.87,"m":22.01},{"c":2.93,"m":22.02},{"c":2.98,"m":21.97},{"c":3.05,"m":22.04},
{"c":2.35,"m":22.11},{"c":2.41,"m":22.08},{"c":2.45,"m":22.14},{"c":2.5,"m":22.07},{"c":2.53,"m":22.12},{"c":2.59,"m":22.1},{"c":2.64,"m":22.06},{"c":2.68,"m":22.13},{"c":2.73,"m":22.08},{"c":2.79,"m":22.11},{"c":2.82,"m":22.12},{"c":2.87,"m":22.07},{"c":2.91,"m":22.14},{"c":2.97,"m":22.09},{"c":3.02,"m":22.13},{"c":3.09,"m":22.06},
{"c":2.39,"m":22.17},{"c":2.45,"m":22.22},{"c":2.49,"m":22.2},{"c":2.54,"m":22.16},{"c":2.57,"m":22.23},{"c":2.63,"m":22.18},{"c":2.68,"m":22.21},{"c":2.72,"m":22.22},{"c":2.77,"m":22.17},{"c":2.83,"m":22.24},{"c":2.86,"m":22.19},{"c":2.91,"m":22.23},{"c":2.95,"m":22.16},{"c":3.01,"m":22.21},{"c":3.06,"m":22.18},{"c":3.13,"m":22.24},
{"c":2.43,"m":22.26},{"c":2.49,"m":22.33},{"c":2.53,"m":22.28},{"c":2.58,"m":22.31},{"c":2.61,"m":22.32},{"c":2.67,"m":22.27},{"c":2.72,"m":22.34},{"c":2.76,"m":22.29},{"c":2.81,"m":22.33},{"c":2.87,"m":22.26},{"c":2.9,"m":22.31},{"c":2.95,"m":22.28},{"c":2.99,"m":22.34},{"c":3.05,"m":22.27},{"c":3.1,"m":22.32},{"c":3.17,"m":22.3},
{"c":2.48,"m":22.37},{"c":2.54,"m":22.44},{"c":2.58,"m":22.39},{"c":2.63,"m":22.43},{"c":2.66,"m":22.36},{"c":2.72,"m":22.41},{"c":2.77,"m":22.38},{"c":2.81,"m":22.44},{"c":2.86,"m":22.37},{"c":2.92,"m":22.42},{"c":2.95,"m":22.4},{"c":3.0,"m":22.36},{"c":3.04,"m":22.43},{"c":3.1,"m":22.38},{"c":3.15,"m":22.41},{"c":3.22,"m":22.42},
{"c":2.53,"m":22.53},{"c":2.59,"m":22.46},{"c":2.63,"m":22.51},{"c":2.68,"m":22.48},{"c":2.71,"m":22.54},{"c":2.77,"m":22.47},{"c":2.82,"m":22.52},{"c":2.86,"m":22.5},{"c":2.91,"m":22.46},{"c":2.97,"m":22.53},{"c":3.0,"m":22.48},{"c":3.05,"m":22.51},{"c":3.09,"m":22.52},{"c":3.15,"m":22.47},{"c":3.2,"m":22.54},{"c":3.27,"m":22.49},
{"c":2.58,"m":22.58},{"c":2.64,"m":22.64},{"c":2.68,"m":22.57},{"c":2.73,"m":22.62},{"c":2.76,"m":22.6},{"c":2.82,"m":22.56},{"c":2.87,"m":22.63},{"c":2.91,"m":22.58},{"c":2.96,"m":22.61},{"c":3.02,"m":22.62},{"c":3.05,"m":22.57},{"c":3.1,"m":22.64},{"c":3.14,"m":22.59},{"c":3.2,"m":22.63},{"c":3.25,"m":22.56},{"c":3.32,"m":22.61},
{"c":1.72,"m":20.35},{"c":1.8,"m":20.62},{"c":1.78,"m":20.95},{"c":1.85,"m":21.3},{"c":1.93,"m":21.62},{"c":2.02,"m":21.98},{"c":2.1,"m":22.3},{"c":1.7,"m":22.42},{"c":2.22,"m":22.6},{"c":3.0,"m":20.55},{"c":3.05,"m":20.62},{"c":3.12,"m":21.52},{"c":3.18,"m":21.72},{"c":3.32,"m":22.05},{"c":3.45,"m":22.35},{"c":3.73,"m":22.45},{"c":3.55,"m":22.62},{"c":3.93,"m":21.24},{"c":3.73,"m":21.46},{"c":3.99,"m":20.77},{"c":4.08,"m":20.99},{"c":4.22,"m":21.65},{"c":3.85,"m":22.12},{"c":1.62,"m":20.15},{"c":1.75,"m":20.05},{"c":2.45,"m":20.08},{"c":2.62,"m":20.12},{"c":2.8,"m":20.18},{"c":2.95,"m":20.05},{"c":3.1,"m":20.25},{"c":3.25,"m":19.95},{"c":2.78,"m":19.78},{"c":3.02,"m":19.62},{"c":3.15,"m":19.55},{"c":3.35,"m":19.38},{"c":3.48,"m":19.25},{"c":3.4,"m":19.7},{"c":3.95,"m":20.35},{"c":4.3,"m":20.05},{"c":3.82,"m":20.58},{"c":1.95,"m":20.12},{"c":2.2,"m":20.15},{"c":1.75,"m":20.84},{"c":1.79,"m":21.3},{"c":1.95,"m":21.87},{"c":4.01,"m":21.64},{"c":3.73,"m":21.87},{"c":3.68,"m":22.27}],
"gR":[{"c":-1.86,"m":15.23},{"c":-0.72,"m":15.44},{"c":-0.42,"m":15.46},{"c":-1.34,"m":16.08},{"c":-0.88,"m":15.93},{"c":2.71,"m":15.78},{"c":3.04,"m":15.2},{"c":3.27,"m":15.98},{"c":3.54,"m":16.48},{"c":3.79,"m":16.97},{"c":3.17,"m":17.64},{"c":0.06,"m":19.41},{"c":3.03,"m":19.2},
{"c":1.97,"m":20.44},{"c":2.04,"m":20.48},{"c":2.11,"m":20.42},{"c":2.17,"m":20.47},{"c":2.23,"m":20.41},{"c":2.28,"m":20.46},{"c":2.33,"m":20.43},{"c":2.38,"m":20.49},{"c":2.43,"m":20.44},{"c":2.48,"m":20.47},{"c":2.53,"m":20.41},{"c":2.58,"m":20.46},{"c":2.64,"m":20.43},{"c":2.7,"m":20.48},{"c":2.77,"m":20.42},{"c":2.84,"m":20.47},{"c":2.92,"m":20.44},
{"c":2.01,"m":20.54},{"c":2.08,"m":20.58},{"c":2.14,"m":20.52},{"c":2.2,"m":20.57},{"c":2.25,"m":20.51},{"c":2.3,"m":20.56},{"c":2.35,"m":20.53},{"c":2.4,"m":20.59},{"c":2.45,"m":20.54},{"c":2.5,"m":20.57},{"c":2.55,"m":20.51},{"c":2.6,"m":20.56},{"c":2.66,"m":20.53},{"c":2.72,"m":20.58},{"c":2.79,"m":20.52},{"c":2.87,"m":20.57},
{"c":2.04,"m":20.64},{"c":2.11,"m":20.68},{"c":2.17,"m":20.62},{"c":2.22,"m":20.67},{"c":2.27,"m":20.61},{"c":2.32,"m":20.66},{"c":2.37,"m":20.63},{"c":2.42,"m":20.69},{"c":2.47,"m":20.64},{"c":2.52,"m":20.67},{"c":2.57,"m":20.61},{"c":2.62,"m":20.66},{"c":2.68,"m":20.63},{"c":2.74,"m":20.68},{"c":2.81,"m":20.62},{"c":2.89,"m":20.67},{"c":2.29,"m":20.7},{"c":2.49,"m":20.6},
{"c":2.06,"m":20.74},{"c":2.13,"m":20.78},{"c":2.19,"m":20.72},{"c":2.24,"m":20.77},{"c":2.29,"m":20.71},{"c":2.34,"m":20.76},{"c":2.39,"m":20.73},{"c":2.44,"m":20.79},{"c":2.49,"m":20.74},{"c":2.54,"m":20.77},{"c":2.59,"m":20.71},{"c":2.64,"m":20.76},{"c":2.7,"m":20.73},{"c":2.76,"m":20.78},{"c":2.83,"m":20.72},{"c":2.9,"m":20.77},{"c":2.31,"m":20.8},{"c":2.51,"m":20.7},
{"c":2.08,"m":20.84},{"c":2.15,"m":20.88},{"c":2.21,"m":20.82},{"c":2.26,"m":20.87},{"c":2.31,"m":20.81},{"c":2.36,"m":20.86},{"c":2.41,"m":20.83},{"c":2.46,"m":20.89},{"c":2.51,"m":20.84},{"c":2.56,"m":20.87},{"c":2.61,"m":20.81},{"c":2.66,"m":20.86},{"c":2.72,"m":20.83},{"c":2.78,"m":20.88},{"c":2.85,"m":20.82},{"c":2.33,"m":20.9},{"c":2.53,"m":20.8},
{"c":2.1,"m":20.94},{"c":2.17,"m":20.98},{"c":2.23,"m":20.92},{"c":2.28,"m":20.97},{"c":2.33,"m":20.91},{"c":2.38,"m":20.96},{"c":2.43,"m":20.93},{"c":2.48,"m":20.99},{"c":2.53,"m":20.94},{"c":2.58,"m":20.97},{"c":2.63,"m":20.91},{"c":2.68,"m":20.96},{"c":2.74,"m":20.93},{"c":2.81,"m":20.98},{"c":2.88,"m":20.92},{"c":2.35,"m":21.0},{"c":2.55,"m":20.9},
{"c":2.13,"m":21.04},{"c":2.19,"m":21.08},{"c":2.25,"m":21.02},{"c":2.3,"m":21.07},{"c":2.35,"m":21.01},{"c":2.4,"m":21.06},{"c":2.45,"m":21.03},{"c":2.5,"m":21.09},{"c":2.55,"m":21.04},{"c":2.6,"m":21.07},{"c":2.65,"m":21.01},{"c":2.7,"m":21.06},{"c":2.76,"m":21.03},{"c":2.83,"m":21.08},{"c":2.37,"m":21.1},{"c":2.57,"m":21.0},
{"c":2.15,"m":21.14},{"c":2.21,"m":21.18},{"c":2.27,"m":21.12},{"c":2.32,"m":21.17},{"c":2.37,"m":21.11},{"c":2.42,"m":21.16},{"c":2.47,"m":21.13},{"c":2.52,"m":21.19},{"c":2.57,"m":21.14},{"c":2.62,"m":21.17},{"c":2.67,"m":21.11},{"c":2.72,"m":21.16},{"c":2.79,"m":21.13},{"c":2.86,"m":21.18},{"c":2.39,"m":21.2},{"c":2.59,"m":21.1},
{"c":2.18,"m":21.24},{"c":2.24,"m":21.28},{"c":2.3,"m":21.22},{"c":2.35,"m":21.27},{"c":2.4,"m":21.21},{"c":2.45,"m":21.26},{"c":2.5,"m":21.23},{"c":2.55,"m":21.29},{"c":2.6,"m":21.24},{"c":2.65,"m":21.27},{"c":2.7,"m":21.21},{"c":2.76,"m":21.26},{"c":2.83,"m":21.23},{"c":2.42,"m":21.3},{"c":2.62,"m":21.2},
{"c":2.21,"m":21.34},{"c":2.27,"m":21.38},{"c":2.33,"m":21.32},{"c":2.38,"m":21.37},{"c":2.43,"m":21.31},{"c":2.48,"m":21.36},{"c":2.53,"m":21.33},{"c":2.58,"m":21.39},{"c":2.63,"m":21.34},{"c":2.68,"m":21.37},{"c":2.74,"m":21.31},{"c":2.81,"m":21.36},{"c":2.45,"m":21.4},{"c":2.65,"m":21.3},
{"c":2.29,"m":21.44},{"c":2.35,"m":21.48},{"c":2.4,"m":21.42},{"c":2.45,"m":21.47},{"c":2.5,"m":21.41},{"c":2.55,"m":21.46},{"c":2.6,"m":21.43},{"c":2.65,"m":21.49},{"c":2.7,"m":21.44},{"c":2.76,"m":21.47},{"c":2.83,"m":21.41},{"c":2.52,"m":21.5},{"c":2.67,"m":21.4},
{"c":2.32,"m":21.54},{"c":2.38,"m":21.58},{"c":2.43,"m":21.52},{"c":2.48,"m":21.57},{"c":2.53,"m":21.51},{"c":2.58,"m":21.56},{"c":2.63,"m":21.53},{"c":2.68,"m":21.59},{"c":2.74,"m":21.54},{"c":2.81,"m":21.57},{"c":2.55,"m":21.6},{"c":2.7,"m":21.5},
{"c":2.35,"m":21.64},{"c":2.41,"m":21.68},{"c":2.46,"m":21.62},{"c":2.51,"m":21.67},{"c":2.56,"m":21.61},{"c":2.61,"m":21.66},{"c":2.66,"m":21.63},{"c":2.71,"m":21.69},{"c":2.77,"m":21.64},{"c":2.84,"m":21.67},{"c":2.58,"m":21.7},
{"c":2.38,"m":21.74},{"c":2.44,"m":21.78},{"c":2.49,"m":21.72},{"c":2.54,"m":21.77},{"c":2.59,"m":21.71},{"c":2.64,"m":21.76},{"c":2.69,"m":21.73},{"c":2.75,"m":21.79},{"c":2.82,"m":21.74},{"c":2.61,"m":21.8},
{"c":2.41,"m":21.84},{"c":2.47,"m":21.88},{"c":2.52,"m":21.82},{"c":2.57,"m":21.87},{"c":2.62,"m":21.81},{"c":2.67,"m":21.86},{"c":2.73,"m":21.83},{"c":2.8,"m":21.88},{"c":2.64,"m":21.9},
{"c":2.26,"m":20.6},{"c":2.34,"m":20.61},{"c":2.44,"m":20.59},{"c":2.54,"m":20.62},{"c":2.63,"m":20.6},{"c":2.72,"m":20.61},{"c":2.27,"m":20.71},{"c":2.36,"m":20.69},{"c":2.46,"m":20.72},{"c":2.56,"m":20.7},{"c":2.66,"m":20.71},{"c":2.75,"m":20.69},{"c":2.28,"m":20.8},{"c":2.38,"m":20.81},{"c":2.48,"m":20.79},{"c":2.58,"m":20.82},{"c":2.68,"m":20.8},{"c":2.3,"m":20.91},{"c":2.4,"m":20.89},{"c":2.5,"m":20.92},{"c":2.6,"m":20.9},{"c":2.7,"m":20.91},{"c":2.32,"m":21.0},{"c":2.42,"m":21.01},{"c":2.52,"m":20.99},{"c":2.62,"m":21.02},{"c":2.72,"m":21.0},{"c":2.34,"m":21.11},{"c":2.44,"m":21.09},{"c":2.54,"m":21.12},{"c":2.64,"m":21.1},{"c":2.36,"m":21.2},{"c":2.46,"m":21.21},{"c":2.56,"m":21.19},{"c":2.66,"m":21.22},{"c":2.38,"m":21.31},{"c":2.48,"m":21.29},{"c":2.58,"m":21.32},{"c":2.68,"m":21.3},
{"c":2.05,"m":20.46},{"c":2.11,"m":20.51},{"c":2.15,"m":20.48},{"c":2.2,"m":20.54},{"c":2.23,"m":20.47},{"c":2.29,"m":20.52},{"c":2.34,"m":20.5},{"c":2.38,"m":20.46},{"c":2.43,"m":20.53},{"c":2.49,"m":20.48},{"c":2.52,"m":20.51},{"c":2.57,"m":20.52},{"c":2.61,"m":20.47},{"c":2.67,"m":20.54},{"c":2.72,"m":20.49},{"c":2.79,"m":20.53},
{"c":2.07,"m":20.64},{"c":2.13,"m":20.57},{"c":2.17,"m":20.62},{"c":2.22,"m":20.6},{"c":2.25,"m":20.56},{"c":2.31,"m":20.63},{"c":2.36,"m":20.58},{"c":2.4,"m":20.61},{"c":2.45,"m":20.62},{"c":2.51,"m":20.57},{"c":2.54,"m":20.64},{"c":2.59,"m":20.59},{"c":2.63,"m":20.63},{"c":2.69,"m":20.56},{"c":2.74,"m":20.61},{"c":2.81,"m":20.58},
{"c":2.09,"m":20.7},{"c":2.15,"m":20.66},{"c":2.19,"m":20.73},{"c":2.24,"m":20.68},{"c":2.27,"m":20.71},{"c":2.33,"m":20.72},{"c":2.38,"m":20.67},{"c":2.42,"m":20.74},{"c":2.47,"m":20.69},{"c":2.53,"m":20.73},{"c":2.56,"m":20.66},{"c":2.61,"m":20.71},{"c":2.65,"m":20.68},{"c":2.71,"m":20.74},{"c":2.76,"m":20.67},{"c":2.83,"m":20.72},
{"c":2.11,"m":20.78},{"c":2.17,"m":20.81},{"c":2.21,"m":20.82},{"c":2.26,"m":20.77},{"c":2.29,"m":20.84},{"c":2.35,"m":20.79},{"c":2.4,"m":20.83},{"c":2.44,"m":20.76},{"c":2.49,"m":20.81},{"c":2.55,"m":20.78},{"c":2.58,"m":20.84},{"c":2.63,"m":20.77},{"c":2.67,"m":20.82},{"c":2.73,"m":20.8},{"c":2.78,"m":20.76},{"c":2.85,"m":20.83},
{"c":2.13,"m":20.92},{"c":2.19,"m":20.87},{"c":2.23,"m":20.94},{"c":2.28,"m":20.89},{"c":2.31,"m":20.93},{"c":2.37,"m":20.86},{"c":2.42,"m":20.91},{"c":2.46,"m":20.88},{"c":2.51,"m":20.94},{"c":2.57,"m":20.87},{"c":2.6,"m":20.92},{"c":2.65,"m":20.9},{"c":2.69,"m":20.86},{"c":2.75,"m":20.93},{"c":2.8,"m":20.88},{"c":2.87,"m":20.91},
{"c":2.15,"m":20.99},{"c":2.21,"m":21.03},{"c":2.25,"m":20.96},{"c":2.3,"m":21.01},{"c":2.33,"m":20.98},{"c":2.39,"m":21.04},{"c":2.44,"m":20.97},{"c":2.48,"m":21.02},{"c":2.53,"m":21.0},{"c":2.59,"m":20.96},{"c":2.62,"m":21.03},{"c":2.67,"m":20.98},{"c":2.71,"m":21.01},{"c":2.77,"m":21.02},{"c":2.82,"m":20.97},{"c":2.89,"m":21.04},
{"c":2.17,"m":21.11},{"c":2.23,"m":21.08},{"c":2.27,"m":21.14},{"c":2.32,"m":21.07},{"c":2.35,"m":21.12},{"c":2.41,"m":21.1},{"c":2.46,"m":21.06},{"c":2.5,"m":21.13},{"c":2.55,"m":21.08},{"c":2.61,"m":21.11},{"c":2.64,"m":21.12},{"c":2.69,"m":21.07},{"c":2.73,"m":21.14},{"c":2.79,"m":21.09},{"c":2.84,"m":21.13},{"c":2.91,"m":21.06},
{"c":2.19,"m":21.17},{"c":2.25,"m":21.22},{"c":2.29,"m":21.2},{"c":2.34,"m":21.16},{"c":2.37,"m":21.23},{"c":2.43,"m":21.18},{"c":2.48,"m":21.21},{"c":2.52,"m":21.22},{"c":2.57,"m":21.17},{"c":2.63,"m":21.24},{"c":2.66,"m":21.19},{"c":2.71,"m":21.23},{"c":2.75,"m":21.16},{"c":2.81,"m":21.21},{"c":2.86,"m":21.18},{"c":2.93,"m":21.24},
{"c":2.22,"m":21.26},{"c":2.28,"m":21.33},{"c":2.32,"m":21.28},{"c":2.37,"m":21.31},{"c":2.4,"m":21.32},{"c":2.46,"m":21.27},{"c":2.51,"m":21.34},{"c":2.55,"m":21.29},{"c":2.6,"m":21.33},{"c":2.66,"m":21.26},{"c":2.69,"m":21.31},{"c":2.74,"m":21.28},{"c":2.78,"m":21.34},{"c":2.84,"m":21.27},
{"c":2.26,"m":21.37},{"c":2.32,"m":21.44},{"c":2.36,"m":21.39},{"c":2.41,"m":21.43},{"c":2.44,"m":21.36},{"c":2.5,"m":21.41},{"c":2.55,"m":21.38},{"c":2.59,"m":21.44},{"c":2.64,"m":21.37},{"c":2.7,"m":21.42},{"c":2.73,"m":21.4},{"c":2.78,"m":21.36},{"c":2.82,"m":21.43},
{"c":2.3,"m":21.53},{"c":2.36,"m":21.46},{"c":2.4,"m":21.51},{"c":2.45,"m":21.48},{"c":2.48,"m":21.54},{"c":2.54,"m":21.47},{"c":2.59,"m":21.52},{"c":2.63,"m":21.5},{"c":2.68,"m":21.46},{"c":2.74,"m":21.53},{"c":2.77,"m":21.48},{"c":2.82,"m":21.51},
{"c":2.33,"m":21.58},{"c":2.39,"m":21.64},{"c":2.43,"m":21.57},{"c":2.48,"m":21.62},{"c":2.51,"m":21.6},{"c":2.57,"m":21.56},{"c":2.62,"m":21.63},{"c":2.66,"m":21.58},{"c":2.71,"m":21.61},{"c":2.77,"m":21.62},{"c":2.8,"m":21.57},
{"c":2.36,"m":21.72},{"c":2.42,"m":21.7},{"c":2.46,"m":21.66},{"c":2.51,"m":21.73},{"c":2.54,"m":21.68},{"c":2.6,"m":21.71},{"c":2.65,"m":21.72},{"c":2.69,"m":21.67},{"c":2.74,"m":21.74},{"c":2.8,"m":21.69},
{"c":2.4,"m":21.83},{"c":2.46,"m":21.78},{"c":2.5,"m":21.81},{"c":2.55,"m":21.82},{"c":2.58,"m":21.77},{"c":2.64,"m":21.84},{"c":2.69,"m":21.79},{"c":2.73,"m":21.83},{"c":2.78,"m":21.76},
{"c":0.92,"m":20.18},{"c":1.05,"m":20.3},{"c":1.18,"m":20.22},{"c":1.3,"m":20.12},{"c":1.42,"m":20.28},{"c":1.52,"m":20.2},{"c":1.6,"m":20.35},{"c":1.68,"m":20.1},{"c":1.75,"m":20.25},{"c":1.82,"m":20.38},{"c":1.88,"m":20.15},{"c":1.95,"m":20.3},{"c":2.02,"m":20.22},{"c":2.08,"m":20.36},{"c":2.14,"m":20.12},{"c":2.2,"m":20.27},{"c":2.26,"m":20.19},{"c":2.32,"m":20.33},{"c":2.38,"m":20.24},{"c":2.44,"m":20.1},{"c":2.5,"m":20.3},{"c":2.56,"m":20.21},{"c":2.62,"m":20.37},{"c":2.68,"m":20.16},{"c":2.74,"m":20.29},{"c":2.8,"m":20.08},{"c":2.86,"m":20.34},{"c":2.92,"m":20.23},{"c":2.98,"m":20.13},{"c":3.05,"m":20.31},{"c":3.12,"m":20.2},{"c":3.2,"m":20.38},{"c":3.28,"m":20.11},{"c":3.36,"m":20.27},{"c":3.45,"m":20.18},{"c":3.55,"m":20.33},{"c":3.63,"m":20.07},{"c":3.72,"m":20.25},{"c":3.8,"m":20.14},{"c":1.12,"m":20.4},{"c":1.35,"m":20.36},{"c":2.35,"m":20.06},{"c":2.55,"m":20.04},{"c":3.15,"m":20.05},
{"c":1.15,"m":20.45},{"c":1.3,"m":20.52},{"c":1.45,"m":20.48},{"c":1.6,"m":20.55},{"c":1.75,"m":20.5},{"c":1.88,"m":20.58},{"c":1.28,"m":20.68},{"c":1.42,"m":20.75},{"c":1.55,"m":20.66},{"c":1.7,"m":20.72},{"c":1.85,"m":20.8},{"c":1.95,"m":20.7},{"c":1.5,"m":20.9},{"c":1.62,"m":20.96},{"c":1.78,"m":20.88},{"c":1.9,"m":21.02},{"c":1.98,"m":20.92},{"c":1.72,"m":21.18},{"c":1.85,"m":21.25},{"c":2.0,"m":21.15},{"c":1.8,"m":21.08},{"c":1.92,"m":21.4},{"c":2.05,"m":21.33},{"c":1.97,"m":21.52},{"c":2.1,"m":21.6},{"c":2.15,"m":21.48},{"c":2.12,"m":21.78},{"c":2.2,"m":21.85},{"c":2.05,"m":21.7},{"c":1.38,"m":20.58},{"c":1.65,"m":20.82},{"c":1.58,"m":21.05},
{"c":1.35,"m":20.25},{"c":1.55,"m":20.42},{"c":1.7,"m":20.3},{"c":1.92,"m":20.45},{"c":1.48,"m":20.62},{"c":1.62,"m":20.7},{"c":1.8,"m":20.65},{"c":1.72,"m":20.98},{"c":1.88,"m":20.9},{"c":1.95,"m":21.2},{"c":1.88,"m":21.35},{"c":2.02,"m":21.45},{"c":2.08,"m":21.62},{"c":2.18,"m":21.72},{"c":2.25,"m":21.8},{"c":2.95,"m":20.62},{"c":3.08,"m":20.88},{"c":2.98,"m":21.05},{"c":3.12,"m":21.35},{"c":3.22,"m":21.5},{"c":2.95,"m":21.3},{"c":2.98,"m":21.55},{"c":3.2,"m":21.7},{"c":3.4,"m":21.62},{"c":3.55,"m":21.52},{"c":3.68,"m":21.78},{"c":3.3,"m":20.42},{"c":3.6,"m":20.35},{"c":3.75,"m":20.95},{"c":3.45,"m":20.85},
{"c":2.95,"m":20.5},{"c":3.05,"m":20.45},{"c":3.15,"m":20.58},{"c":3.25,"m":20.48},{"c":3.38,"m":20.55},{"c":3.5,"m":20.44},{"c":3.62,"m":20.6},{"c":3.75,"m":20.5},{"c":3.82,"m":20.65},{"c":2.98,"m":20.7},{"c":3.1,"m":20.78},{"c":3.22,"m":20.66},{"c":3.35,"m":20.74},{"c":3.48,"m":20.82},{"c":3.58,"m":20.7},{"c":3.7,"m":20.85},{"c":3.8,"m":20.76},{"c":2.94,"m":20.9},{"c":3.05,"m":21.0},{"c":3.18,"m":20.92},{"c":3.3,"m":21.05},{"c":3.42,"m":20.95},{"c":3.55,"m":21.08},{"c":3.66,"m":20.98},{"c":3.78,"m":21.1},{"c":2.96,"m":21.15},{"c":3.08,"m":21.25},{"c":3.2,"m":21.12},{"c":3.32,"m":21.3},{"c":3.45,"m":21.2},{"c":3.58,"m":21.35},{"c":3.7,"m":21.22},{"c":3.83,"m":21.4},{"c":2.92,"m":21.42},{"c":3.02,"m":21.55},{"c":3.14,"m":21.45},{"c":3.28,"m":21.6},{"c":3.4,"m":21.5},{"c":3.52,"m":21.65},{"c":3.65,"m":21.48},{"c":3.76,"m":21.62},{"c":2.9,"m":21.7},{"c":3.0,"m":21.82},{"c":3.12,"m":21.75},{"c":3.25,"m":21.88},{"c":3.38,"m":21.78},{"c":3.5,"m":21.85},{"c":3.62,"m":21.72},{"c":3.74,"m":21.86},{"c":3.84,"m":21.55},{"c":3.35,"m":20.6},{"c":3.62,"m":21.15},{"c":3.05,"m":21.62},{"c":3.48,"m":21.4},
{"c":3.65,"m":18.56},{"c":3.68,"m":18.67},{"c":3.6,"m":18.67},{"c":3.3,"m":18.74},{"c":3.46,"m":18.82},{"c":3.27,"m":18.96},{"c":3.55,"m":18.95},{"c":3.68,"m":18.97},{"c":3.37,"m":19.13},{"c":3.54,"m":19.11},{"c":3.33,"m":19.17},{"c":3.77,"m":19.02},{"c":3.11,"m":19.4},{"c":2.89,"m":19.45},{"c":3.18,"m":19.62},{"c":3.55,"m":19.38},{"c":3.61,"m":19.47},{"c":3.77,"m":19.5},{"c":3.47,"m":19.59},{"c":3.63,"m":19.65},{"c":3.77,"m":19.8},{"c":3.53,"m":19.8},{"c":3.37,"m":19.83},{"c":3.21,"m":19.71},{"c":3.11,"m":19.8},{"c":3.29,"m":19.98},{"c":3.13,"m":20.07},{"c":3.42,"m":19.98},{"c":3.58,"m":20.01},{"c":3.77,"m":19.97},{"c":3.71,"m":20.15},{"c":3.5,"m":20.19},{"c":3.82,"m":18.75},{"c":3.8,"m":19.25},{"c":3.42,"m":19.3},{"c":3.25,"m":19.5},{"c":3.7,"m":19.35},{"c":3.02,"m":19.9},{"c":2.95,"m":19.7},{"c":3.35,"m":19.55},{"c":0.82,"m":20.28},{"c":0.95,"m":20.05},{"c":1.08,"m":20.52},{"c":1.22,"m":20.62}]
},
"hconcat":[
{"width":380,"height":380,
"resolve":{"axis":{"x":"independent","y":"independent"}},
"layer":[
{"data":{"name":"gL"},"mark":{"type":"square","size":5,"color":"#858585","opacity":1,"clip":true},
"encoding":{
"x":{"field":"c","type":"quantitative","scale":{"domain":[-2.9,8.71],"nice":false,"zero":false},"axis":{"orient":"bottom","values":[-2,0,2,4,6,8],"tickSize":-8,"labelPadding":13,"domain":false,"title":"m","titleX":160.5,"titleY":36,"titleAlign":"left","titleBaseline":"alphabetic","titleFont":"Liberation Serif","titleFontSize":17,"titleFontWeight":"normal"}},
"y":{"field":"m","type":"quantitative","scale":{"domain":[14.3,22.69],"reverse":true,"nice":false,"zero":false},"axis":{"orient":"left","values":[16,18,20,22],"tickSize":-9,"labelPadding":17,"domain":false,"title":"m","titleX":-33.5,"titleY":210,"titleAngle":270,"titleAlign":"left","titleBaseline":"alphabetic","titleFont":"Liberation Serif","titleFontSize":17,"titleFontWeight":"normal"}}}},
{"data":{"name":"poly"},"mark":{"type":"line","color":"#ff0000","strokeWidth":1.3,"clip":true},
"encoding":{
"x":{"field":"c","type":"quantitative","scale":{"domain":[-2.9,8.71],"nice":false,"zero":false},"axis":{"orient":"top","values":[-2,0,2,4,6,8],"tickSize":-8,"labels":false,"domain":false,"title":null}},
"y":{"field":"m","type":"quantitative","scale":{"domain":[14.3,22.69],"reverse":true,"nice":false,"zero":false},"axis":{"orient":"right","values":[16,18,20,22],"tickSize":-9,"labels":false,"domain":false,"title":null}},
"order":{"field":"o","type":"quantitative"}}},
{"data":{"name":"bL"},"mark":{"type":"square","size":49,"color":"#0000ff","opacity":1},
"encoding":{
"x":{"field":"c","type":"quantitative","scale":{"domain":[-2.9,8.71],"nice":false,"zero":false},"axis":{"orient":"bottom","values":[-2.5,-1.5,-1,-0.5,0.5,1,1.5,2.5,3,3.5,4.5,5,5.5,6.5,7,7.5,8.5],"tickSize":-4,"labels":false,"domain":false,"title":null}},
"y":{"field":"m","type":"quantitative","scale":{"domain":[14.3,22.69],"reverse":true,"nice":false,"zero":false},"axis":{"orient":"left","values":[14.5,15,15.5,16.5,17,17.5,18.5,19,19.5,20.5,21,21.5,22.5],"tickSize":-4.5,"labels":false,"domain":false,"title":null}}}},
{"data":{"name":"rL"},"mark":{"type":"circle","size":34,"color":"#ff0000","opacity":1},
"encoding":{
"x":{"field":"c","type":"quantitative","scale":{"domain":[-2.9,8.71],"nice":false,"zero":false},"axis":{"orient":"top","values":[-2.5,-1.5,-1,-0.5,0.5,1,1.5,2.5,3,3.5,4.5,5,5.5,6.5,7,7.5,8.5],"tickSize":-4,"labels":false,"domain":false,"title":null}},
"y":{"field":"m","type":"quantitative","scale":{"domain":[14.3,22.69],"reverse":true,"nice":false,"zero":false},"axis":{"orient":"right","values":[14.5,15,15.5,16.5,17,17.5,18.5,19,19.5,20.5,21,21.5,22.5],"tickSize":-4.5,"labels":false,"domain":false,"title":null}}}},
{"data":{"name":"tL1"},"mark":{"type":"text","font":"Liberation Serif","fontSize":19,"align":"center","baseline":"middle","color":"#000000"},
"encoding":{
"x":{"field":"c","type":"quantitative","scale":{"domain":[-2.9,8.71],"nice":false,"zero":false},"axis":{"orient":"bottom","ticks":false,"labels":false,"domain":false,"title":"F255W","titleX":175,"titleY":39,"titleAlign":"left","titleBaseline":"alphabetic","titleFont":"Liberation Sans","titleFontSize":8,"titleFontWeight":"bold"}},
"y":{"field":"m","type":"quantitative","scale":{"domain":[14.3,22.69],"reverse":true,"nice":false,"zero":false},"axis":{"orient":"left","ticks":false,"labels":false,"domain":false,"title":"F255W","titleX":-30.3,"titleY":195,"titleAngle":270,"titleAlign":"left","titleBaseline":"alphabetic","titleFont":"Liberation Sans","titleFontSize":8,"titleFontWeight":"bold"}},
"text":{"field":"t"}}},
{"data":{"name":"tL2"},"mark":{"type":"text","font":"DejaVu Sans Mono","fontSize":12,"fontWeight":"bold","align":"center","baseline":"middle","color":"#000000"},
"encoding":{
"x":{"field":"c","type":"quantitative","scale":{"domain":[-2.9,8.71],"nice":false,"zero":false},"axis":{"orient":"bottom","ticks":false,"labels":false,"domain":false,"title":"−V","titleX":201.5,"titleY":36,"titleAlign":"left","titleBaseline":"alphabetic","titleFont":"Liberation Serif","titleFontSize":17,"titleFontWeight":"normal"}},
"y":{"field":"m","type":"quantitative","scale":{"domain":[14.3,22.69],"reverse":true,"nice":false,"zero":false},"axis":null},
"text":{"field":"t"}}}
]},
{"width":380,"height":380,
"resolve":{"axis":{"x":"independent","y":"independent"}},
"layer":[
{"data":{"name":"gR"},"mark":{"type":"square","size":5,"color":"#858585","opacity":1,"clip":true},
"encoding":{
"x":{"field":"c","type":"quantitative","scale":{"domain":[-2.105,3.898],"nice":false,"zero":false},"axis":{"orient":"bottom","values":[-2,0,2],"tickSize":-8,"labelPadding":13,"domain":false,"title":"m","titleX":160.5,"titleY":36,"titleAlign":"left","titleBaseline":"alphabetic","titleFont":"Liberation Serif","titleFontSize":17,"titleFontWeight":"normal"}},
"y":{"field":"m","type":"quantitative","scale":{"domain":[15.1,21.886],"reverse":true,"nice":false,"zero":false},"axis":{"orient":"left","values":[16,18,20],"tickSize":-9,"labelPadding":17,"domain":false,"title":"m","titleX":-33.5,"titleY":210,"titleAngle":270,"titleAlign":"left","titleBaseline":"alphabetic","titleFont":"Liberation Serif","titleFontSize":17,"titleFontWeight":"normal"}}}},
{"data":{"name":"poly"},"mark":{"type":"line","color":"#ff0000","strokeWidth":1.3,"clip":true},
"encoding":{
"x":{"field":"c","type":"quantitative","scale":{"domain":[-2.105,3.898],"nice":false,"zero":false},"axis":{"orient":"top","values":[-2,0,2],"tickSize":-8,"labels":false,"domain":false,"title":null}},
"y":{"field":"m","type":"quantitative","scale":{"domain":[15.1,21.886],"reverse":true,"nice":false,"zero":false},"axis":{"orient":"right","values":[16,18,20],"tickSize":-9,"labels":false,"domain":false,"title":null}},
"order":{"field":"o","type":"quantitative"}}},
{"data":{"name":"bR"},"mark":{"type":"square","size":42,"color":"#0000ff","opacity":1},
"encoding":{
"x":{"field":"c","type":"quantitative","scale":{"domain":[-2.105,3.898],"nice":false,"zero":false},"axis":{"orient":"bottom","values":[-1.5,-1,-0.5,0.5,1,1.5,2.5,3,3.5],"tickSize":-4,"labels":false,"domain":false,"title":null}},
"y":{"field":"m","type":"quantitative","scale":{"domain":[15.1,21.886],"reverse":true,"nice":false,"zero":false},"axis":{"orient":"left","values":[15.5,16.5,17,17.5,18.5,19,19.5,20.5,21,21.5],"tickSize":-4.5,"labels":false,"domain":false,"title":null}}}},
{"data":{"name":"rR"},"mark":{"type":"circle","size":34,"color":"#ff0000","opacity":1},
"encoding":{
"x":{"field":"c","type":"quantitative","scale":{"domain":[-2.105,3.898],"nice":false,"zero":false},"axis":{"orient":"top","values":[-1.5,-1,-0.5,0.5,1,1.5,2.5,3,3.5],"tickSize":-4,"labels":false,"domain":false,"title":null}},
"y":{"field":"m","type":"quantitative","scale":{"domain":[15.1,21.886],"reverse":true,"nice":false,"zero":false},"axis":{"orient":"right","values":[15.5,16.5,17,17.5,18.5,19,19.5,20.5,21,21.5],"tickSize":-4.5,"labels":false,"domain":false,"title":null}}}},
{"data":{"name":"tR1"},"mark":{"type":"text","font":"Liberation Serif","fontSize":19,"align":"center","baseline":"middle","color":"#000000"},
"encoding":{
"x":{"field":"c","type":"quantitative","scale":{"domain":[-2.105,3.898],"nice":false,"zero":false},"axis":{"orient":"bottom","ticks":false,"labels":false,"domain":false,"title":"F255W","titleX":175,"titleY":39,"titleAlign":"left","titleBaseline":"alphabetic","titleFont":"Liberation Sans","titleFontSize":8,"titleFontWeight":"bold"}},
"y":{"field":"m","type":"quantitative","scale":{"domain":[15.1,21.886],"reverse":true,"nice":false,"zero":false},"axis":{"orient":"left","ticks":false,"labels":false,"domain":false,"title":"F255W","titleX":-30.3,"titleY":195,"titleAngle":270,"titleAlign":"left","titleBaseline":"alphabetic","titleFont":"Liberation Sans","titleFontSize":8,"titleFontWeight":"bold"}},
"text":{"field":"t"}}},
{"data":{"name":"tR2"},"mark":{"type":"text","font":"DejaVu Sans Mono","fontSize":12,"fontWeight":"bold","align":"center","baseline":"middle","color":"#000000"},
"encoding":{
"x":{"field":"c","type":"quantitative","scale":{"domain":[-2.105,3.898],"nice":false,"zero":false},"axis":{"orient":"bottom","ticks":false,"labels":false,"domain":false,"title":"−V","titleX":201.5,"titleY":36,"titleAlign":"left","titleBaseline":"alphabetic","titleFont":"Liberation Serif","titleFontSize":17,"titleFontWeight":"normal"}},
"y":{"field":"m","type":"quantitative","scale":{"domain":[15.1,21.886],"reverse":true,"nice":false,"zero":false},"axis":null},
"text":{"field":"t"}}}
]}
]
}
